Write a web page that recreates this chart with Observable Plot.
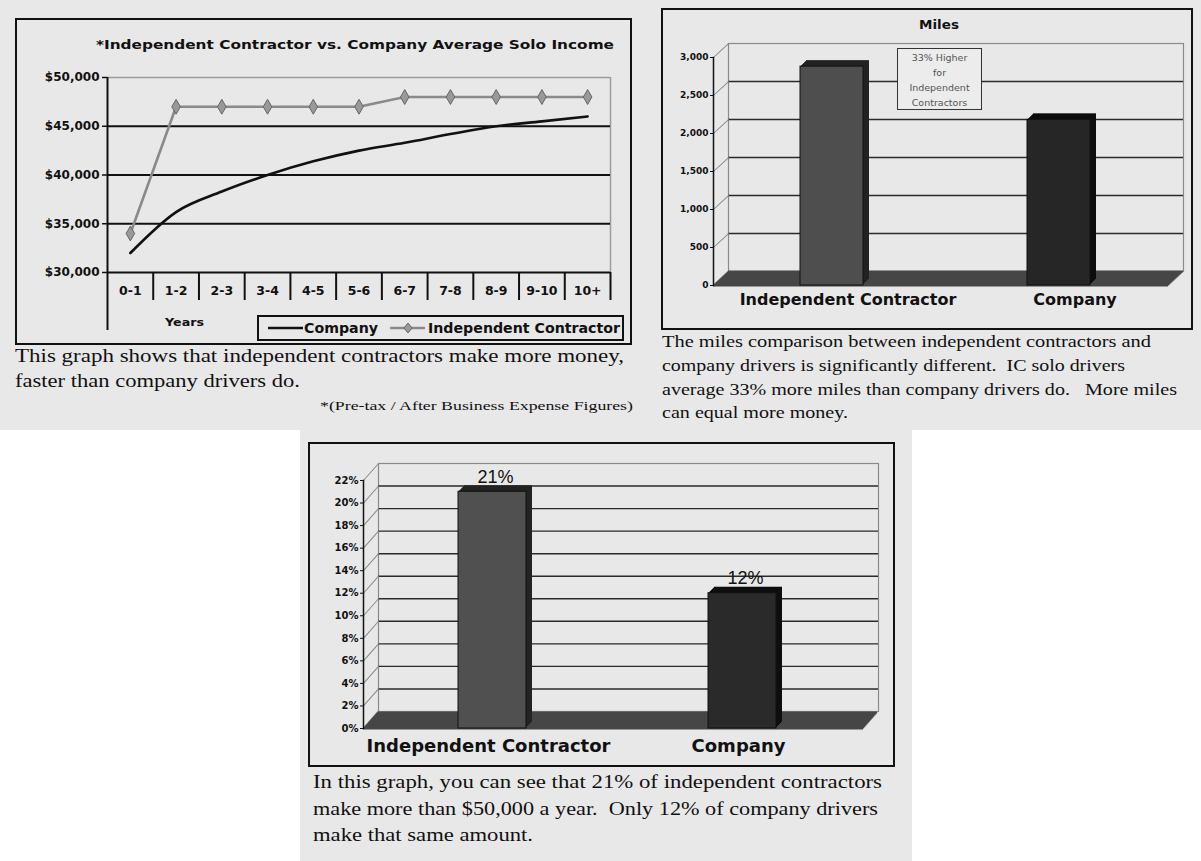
<!DOCTYPE html>
<html><head><meta charset="utf-8">
<script src="https://cdn.jsdelivr.net/npm/d3@7"></script>
<script src="https://cdn.jsdelivr.net/npm/@observablehq/plot@0.6"></script>
<style>
body{margin:0;background:#fff;}
#page{position:relative;width:1201px;height:861px;overflow:hidden;font-family:"Liberation Sans",Arial,sans-serif;color:#111;}
.bg{position:absolute;background:#e8e8e8;}
.box{position:absolute;border:2.5px solid #111;box-sizing:border-box;}
.txt{position:absolute;white-space:pre;display:inline-block;transform-origin:0 50%;}
svg{display:block;}
</style></head><body><div id="page">
<div class="bg" style="left:0;top:0;width:1201px;height:430px"></div>
<div class="bg" style="left:300px;top:430px;width:612px;height:431px"></div>
<div class="box" style="left:15px;top:18px;width:617px;height:327px"></div>
<div class="box" style="left:661px;top:8px;width:532px;height:322px"></div>
<div class="box" style="left:308px;top:442px;width:587px;height:325px"></div>
</div>
<script>
// ---------- data ----------
const years = ["0-1","1-2","2-3","3-4","4-5","5-6","6-7","7-8","8-9","9-10","10+"];
const companyIncome = [32000,36200,38300,40000,41400,42500,43300,44200,45000,45500,46000];
const contractorIncome = [34000,47000,47000,47000,47000,47000,48000,48000,48000,48000,48000];
const incomeTicks = [30000,35000,40000,45000,50000];
const incomeTickLabels = ["$30,000","$35,000","$40,000","$45,000","$50,000"];
const seriesNames = ["Company","Independent Contractor"];

const driverTypes = ["Independent Contractor","Company"];
const milesValues = [2880,2180];
const milesTicks = [0,500,1000,1500,2000,2500,3000];
const milesTickLabels = ["0","500","1,000","1,500","2,000","2,500","3,000"];

const over50kPct = [21,12];
const pctTicks = [0,2,4,6,8,10,12,14,16,18,20,22];
const pctTickLabels = ["0%","2%","4%","6%","8%","10%","12%","14%","16%","18%","20%","22%"];

// ---------- helpers ----------
const page = document.getElementById("page");
function addPlot(svg, left, top){
  const w = document.createElement("div");
  w.style.cssText = `position:absolute;left:${left}px;top:${top}px;`;
  w.appendChild(svg); page.appendChild(w);
}
function txt(s, {left, cy, width, size, family="Liberation Sans", weight="normal", color="#111"}){
  const el = document.createElement("div");
  el.className = "txt";
  el.textContent = s;
  el.style.cssText += `left:${left}px;top:${cy - size*0.6}px;font-size:${size}px;line-height:${size*1.2}px;font-family:${family};font-weight:${weight};color:${color};`;
  page.appendChild(el);
  if (width) {
    const r = el.getBoundingClientRect().width;
    el.style.transform = `scaleX(${width / r})`;
  }
  return el;
}
const baseStyle = {background:"transparent", fontFamily:"DejaVu Sans", fontWeight:"bold", color:"#111", overflow:"visible"};
const segment = {draw(ctx, l){ ctx.moveTo(0,0); ctx.lineTo(0,-l); }};

// ---------- chart 1: income lines ----------
const incomeRows = years.map((y,i)=>({pos:i+0.5, year:y, company:companyIncome[i], contractor:contractorIncome[i]}));
addPlot(Plot.plot({
  width:610, height:290, marginLeft:90, marginRight:17, marginTop:22, marginBottom:73,
  x:{domain:[0, years.length], axis:null, label:null},
  y:{domain:[incomeTicks[0], incomeTicks[incomeTicks.length-1]], axis:null, label:null},
  style:baseStyle,
  marks:[
    Plot.ruleY([incomeTicks[incomeTicks.length-1]], {stroke:"#9c9c9c", strokeWidth:1.5}),
    Plot.ruleX([years.length], {stroke:"#9c9c9c", strokeWidth:1.5}),
    Plot.ruleY(incomeTicks.slice(0,-1), {stroke:"#111", strokeWidth:2}),
    Plot.line(incomeRows, {x:"pos", y:"company", stroke:"#111", strokeWidth:2.6, curve:"monotone-x"}),
    Plot.line(incomeRows, {x:"pos", y:"contractor", stroke:"#8a8a8a", strokeWidth:2.6}),
    Plot.dot(incomeRows, {x:"pos", y:"contractor", symbol:"diamond", r:4.5, fill:"#999", stroke:"#666", strokeWidth:1}),
    Plot.ruleX([0], {stroke:"#111", strokeWidth:2}),
    Plot.axisY(incomeTicks, {anchor:"left", label:null, tickSize:5, tickPadding:3, strokeWidth:1.5, fontSize:12, tickFormat:d=>incomeTickLabels[incomeTicks.indexOf(d)]}),
    Plot.axisX(d3.range(1, years.length+1), {anchor:"bottom", label:null, tickSize:28, strokeWidth:2, tickFormat:()=>""}),
    Plot.axisX([0], {anchor:"bottom", label:null, tickSize:58, strokeWidth:2, tickFormat:()=>""}),
    Plot.axisX(incomeRows.map(d=>d.pos), {anchor:"bottom", label:null, tickSize:0, tickPadding:14, fontSize:12.5, tickFormat:d=>years[Math.floor(d)]})
  ]
}), 17, 55);

txt("*Independent Contractor vs. Company Average Solo Income", {left:96, cy:45, width:518, size:13, family:"DejaVu Sans", weight:"bold"});
txt("Years", {left:165, cy:323, width:39, size:11, family:"DejaVu Sans", weight:"bold"});
// legend
const lg = document.createElement("div");
lg.style.cssText = "position:absolute;left:257px;top:315px;width:367px;height:26px;border:2px solid #111;box-sizing:border-box;";
lg.innerHTML = `<svg width="367" height="26" style="position:absolute;left:-2px;top:-2px">
<line x1="11" x2="46" y1="13" y2="13" stroke="#111" stroke-width="2.5"/>
<line x1="133" x2="168" y1="13" y2="13" stroke="#8a8a8a" stroke-width="2.5"/>
<path d="M151 8 L155 13 L151 18 L147 13 Z" fill="#999" stroke="#666"/></svg>`;
page.appendChild(lg);
txt(seriesNames[0], {left:304, cy:328, width:74, size:14, family:"DejaVu Sans", weight:"bold"});
txt(seriesNames[1], {left:428, cy:328, width:192, size:14, family:"DejaVu Sans", weight:"bold"});
txt("This graph shows that independent contractors make more money,", {left:15, cy:357, width:609, size:18, family:"Liberation Serif"});
txt("faster than company drivers do.", {left:15, cy:382, width:285, size:18, family:"Liberation Serif"});
txt("*(Pre-tax / After Business Expense Figures)", {left:320, cy:406, width:313, size:12.5, family:"Liberation Serif"});

// ---------- chart 2: miles 3D bars ----------
const milesRows = driverTypes.map((t,i)=>({type:t, value:milesValues[i]}));
const front2 = {"Independent Contractor":"#4e4e4e", "Company":"#262626"};
const side2 = {"Independent Contractor":"#222", "Company":"#0c0c0c"};
addPlot(Plot.plot({
  width:527, height:290, marginLeft:50, marginRight:22, marginTop:27, marginBottom:35,
  x:{domain:driverTypes, padding:0, axis:null, label:null},
  y:{domain:[0, 3000], axis:null, label:null},
  color:{type:"identity"},
  style:baseStyle,
  marks:[
    Plot.frame({dx:15, dy:-14, stroke:"#8a8a8a", strokeWidth:1.2}),
    Plot.ruleY(milesTicks.slice(1,-1), {dx:15, dy:-14, stroke:"#2a2a2a", strokeWidth:1.4}),
    Plot.vector(milesTicks, {y:d=>d, frameAnchor:"left", length:20.5, rotate:47, anchor:"start", shape:segment, stroke:"#8a8a8a", strokeWidth:1}),
    ...d3.range(0, 15).map(i => Plot.ruleY([0], {dx:i*15/14, dy:-i, stroke:"#474747", strokeWidth:1.8})),
    ...d3.range(6, 0, -1).map(i => Plot.barY(milesRows, {x:"type", y:"value", fill:d=>side2[d.type], insetLeft:82, insetRight:82, dx:4+i, dy:-i})),
    Plot.barY(milesRows, {x:"type", y:"value", fill:d=>front2[d.type], stroke:"#111", strokeWidth:1, insetLeft:82, insetRight:82, dx:4}),
    Plot.frame({anchor:"left", stroke:"#111", strokeWidth:1.5}),
    Plot.axisY(milesTicks, {anchor:"left", label:null, tickSize:3, tickPadding:2, fontSize:9, tickFormat:d=>milesTickLabels[milesTicks.indexOf(d)]}),
    Plot.axisX(driverTypes, {anchor:"bottom", label:null, tickSize:0, tickPadding:8, fontSize:16, dx:20})
  ]
}), 663, 30);

txt("Miles", {left:919, cy:25, width:40, size:12, family:"DejaVu Sans", weight:"bold"});
const ann = document.createElement("div");
ann.style.cssText = "position:absolute;left:897px;top:48px;width:85px;height:62px;border:1.5px solid #333;box-sizing:border-box;background:#ececec;";
page.appendChild(ann);
["33% Higher","for","Independent","Contractors"].forEach((s,k)=>{
  const e = txt(s, {left:0, cy:58 + k*15, size:9.5, family:"DejaVu Sans", color:"#555"});
  e.style.left = (939.5 - e.getBoundingClientRect().width/2) + "px";
});
txt("The miles comparison between independent contractors and", {left:662, cy:342, width:489, size:17, family:"Liberation Serif"});
txt("company drivers is significantly different.  IC solo drivers", {left:662, cy:366, width:463, size:17, family:"Liberation Serif"});
txt("average 33% more miles than company drivers do.   More miles", {left:662, cy:390, width:515, size:17, family:"Liberation Serif"});
txt("can equal more money.", {left:662, cy:413, width:186, size:17, family:"Liberation Serif"});

// ---------- chart 3: % earning > $50k ----------
const pctRows = driverTypes.map((t,i)=>({type:t, value:over50kPct[i]}));
const front3 = {"Independent Contractor":"#505050", "Company":"#2a2a2a"};
const side3 = {"Independent Contractor":"#232323", "Company":"#0e0e0e"};
addPlot(Plot.plot({
  width:583, height:321, marginLeft:53, marginRight:30, marginTop:36, marginBottom:37,
  x:{domain:driverTypes, padding:0, axis:null, label:null},
  y:{domain:[0, 22], axis:null, label:null},
  color:{type:"identity"},
  style:baseStyle,
  marks:[
    Plot.frame({dx:15, dy:-17, stroke:"#8a8a8a", strokeWidth:1.2}),
    Plot.ruleY(pctTicks.slice(1,-1), {dx:15, dy:-17, stroke:"#2a2a2a", strokeWidth:1.4}),
    Plot.vector(pctTicks, {y:d=>d, frameAnchor:"left", length:22.7, rotate:41.4, anchor:"start", shape:segment, stroke:"#8a8a8a", strokeWidth:1}),
    ...d3.range(0, 17).map(i => Plot.ruleY([0], {dx:i*15/17, dy:-i, stroke:"#474747", strokeWidth:1.8})),
    ...d3.range(6, 0, -1).map(i => Plot.barY(pctRows, {x:"type", y:"value", fill:d=>side3[d.type], insetLeft:91, insetRight:91, dx:4+i, dy:-i})),
    Plot.barY(pctRows, {x:"type", y:"value", fill:d=>front3[d.type], stroke:"#111", strokeWidth:1, insetLeft:91, insetRight:91, dx:4}),
    Plot.text(pctRows, {x:"type", y:"value", text:d=>d.value+"%", dx:7, dy:-9, lineAnchor:"bottom", fontSize:18, fontWeight:"normal", fontFamily:"Liberation Sans", fill:"#111"}),
    Plot.frame({anchor:"left", stroke:"#111", strokeWidth:1.5}),
    Plot.axisY(pctTicks, {anchor:"left", label:null, tickSize:3, tickPadding:2, fontSize:10, tickFormat:d=>pctTickLabels[pctTicks.indexOf(d)]}),
    Plot.axisX(driverTypes, {anchor:"bottom", label:null, tickSize:0, tickPadding:11, fontSize:18, dx:0})
  ]
}), 310, 444);

txt("In this graph, you can see that 21% of independent contractors", {left:313, cy:782, width:569, size:19, family:"Liberation Serif"});
txt("make more than $50,000 a year.  Only 12% of company drivers", {left:313, cy:809, width:565, size:19, family:"Liberation Serif"});
txt("make that same amount.", {left:313, cy:835, width:220, size:19, family:"Liberation Serif"});
</script>
</body></html>
